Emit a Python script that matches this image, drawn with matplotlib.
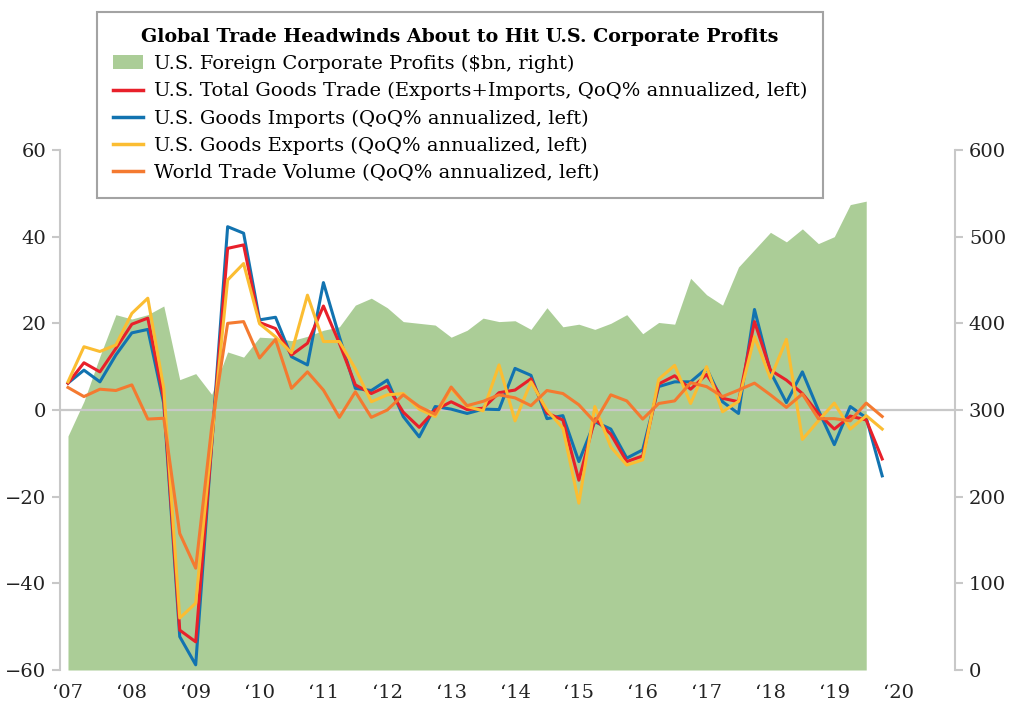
import matplotlib
matplotlib.use('Agg')
import matplotlib.pyplot as plt
from matplotlib.patches import Patch
from matplotlib.lines import Line2D

plt.rcParams['font.family'] = ['DejaVu Serif']

# quarterly data, 2007Q1 .. 2019Q4
quarters = [2007 + i / 4 for i in range(52)]

# U.S. foreign corporate profits ($bn, right axis), 2007Q1 .. 2019Q3
profits = [270, 310, 362, 410, 405, 410, 420, 335, 342, 318,
           367, 361, 384, 383, 380, 385, 392, 396, 421, 429,
           418, 402, 400, 398, 384, 392, 406, 402, 403, 393,
           418, 396, 399, 393, 400, 410, 388, 401, 399, 452,
           433, 421, 465, 485, 505, 494, 509, 492, 500, 537, 541]

# QoQ% annualized, left axis
total_trade = [6.2, 10.9, 8.8, 14.2, 19.8, 21.2, 2.5, -50.8, -53.5, -8.0,
               37.3, 38.1, 20.2, 18.8, 12.7, 15.4, 24.0, 15.4, 5.8, 3.8,
               5.5, -0.5, -4.0, 0.0, 1.9, 0.1, 0.4, 4.0, 4.6, 7.2,
               -0.7, -2.3, -16.2, -2.0, -5.6, -11.9, -10.6, 6.0, 7.9, 4.8,
               8.2, 2.7, 1.9, 20.4, 9.2, 6.9, 3.8, -0.8, -4.4, -1.4,
               -2.3, -11.3]
imports = [6.2, 9.2, 6.5, 12.7, 17.8, 18.6, 1.5, -52.3, -58.8, -8.0,
           42.3, 40.8, 20.8, 21.4, 12.3, 10.4, 29.4, 16.9, 5.0, 4.5,
           6.9, -1.5, -6.2, 0.8, 0.2, -0.8, 0.2, 0.1, 9.6, 8.0,
           -2.0, -1.3, -11.9, -2.7, -4.4, -11.1, -9.2, 5.4, 6.5, 6.5,
           9.6, 1.9, -0.8, 23.2, 8.8, 1.7, 8.8, 0.0, -8.0, 0.8,
           -1.8, -15.2]
exports = [6.5, 14.6, 13.5, 15.0, 22.3, 25.8, 5.0, -48.0, -44.6, -7.0,
           30.0, 33.8, 19.9, 16.9, 13.2, 26.5, 15.8, 15.8, 9.5, 1.9,
           3.5, 3.8, 0.2, -1.5, 5.0, 0.8, -0.2, 10.4, -2.5, 6.5,
           0.0, -4.2, -21.5, 0.8, -8.5, -12.7, -11.5, 7.1, 10.3, 1.5,
           10.0, -0.4, 2.0, 16.9, 7.3, 16.3, -6.8, -2.5, 1.6, -4.4,
           -1.3, -4.4]
world_trade = [5.2, 3.1, 4.8, 4.5, 5.8, -2.1, -1.9, -28.5, -36.5, -4.0,
               20.0, 20.4, 12.0, 16.3, 5.0, 8.8, 4.6, -1.7, 4.2, -1.7,
               0.0, 3.5, 0.8, -1.0, 5.3, 1.0, 2.0, 3.5, 2.8, 1.0,
               4.5, 3.8, 1.2, -2.8, 3.5, 2.1, -2.1, 1.5, 2.1, 6.3,
               5.4, 3.1, 4.6, 6.2, 3.5, 0.6, 3.7, -2.0, -2.0, -2.5,
               1.6, -1.5]

year_ticks = list(range(2007, 2021))
year_labels = ['\u2018%02d' % (y % 100) for y in year_ticks]
left_ticks = [-60, -40, -20, 0, 20, 40, 60]
right_ticks = [0, 100, 200, 300, 400, 500, 600]

green = '#abcd97'
red = '#e8202a'
blue = '#1273b0'
yellow = '#fbbd32'
orange = '#f47a30'
grey = '#c8c8c8'

fig = plt.figure(figsize=(10.12, 7.13), dpi=100, facecolor='white')
ax = fig.add_axes([60 / 1012, 1 - 670 / 713, 895 / 1012, 520 / 713])
ax2 = ax.twinx()
ax.set_zorder(ax2.get_zorder() + 1)
ax.patch.set_visible(False)

# area on the right axis
ax2.fill_between(quarters[:len(profits)], 0, profits, color=green, lw=0)
ax2.set_ylim(0, 600)
ax2.set_yticks(right_ticks)

# lines on the left axis
ax.axhline(0, color=grey, lw=1.6, zorder=1)
ax.plot(quarters, imports, color=blue, lw=2.2, zorder=3)
ax.plot(quarters, total_trade, color=red, lw=2.2, zorder=4)
ax.plot(quarters, exports, color=yellow, lw=2.2, zorder=5)
ax.plot(quarters, world_trade, color=orange, lw=2.2, zorder=6)
ax.set_ylim(-60, 60)
ax.set_yticks(left_ticks)
ax.set_xlim(2006.875, 2020.89)
ax.set_xticks(year_ticks)
ax.set_xticklabels(year_labels)

for a in (ax, ax2):
    for s in a.spines.values():
        s.set_visible(False)
ax.spines['left'].set_visible(True)
ax.spines['left'].set_color(grey)
ax.spines['left'].set_linewidth(1.5)
ax2.spines['right'].set_visible(True)
ax2.spines['right'].set_color(grey)
ax2.spines['right'].set_linewidth(1.5)

ax.tick_params(axis='y', length=6, width=1.5, color=grey, labelsize=14,
               labelcolor='#222222', pad=4)
ax.tick_params(axis='x', length=0, labelsize=14, labelcolor='#222222', pad=10)
ax2.tick_params(axis='y', length=6, width=1.5, color=grey, labelsize=14,
                labelcolor='#222222', pad=4)

handles = [Patch(facecolor=green, edgecolor='none'),
           Line2D([], [], color=red, lw=2.5),
           Line2D([], [], color=blue, lw=2.5),
           Line2D([], [], color=yellow, lw=2.5),
           Line2D([], [], color=orange, lw=2.5)]
labels = ['U.S. Foreign Corporate Profits ($bn, right)',
          'U.S. Total Goods Trade (Exports+Imports, QoQ% annualized, left)',
          'U.S. Goods Imports (QoQ% annualized, left)',
          'U.S. Goods Exports (QoQ% annualized, left)',
          'World Trade Volume (QoQ% annualized, left)']
leg = fig.legend(handles, labels, loc='upper left',
                 bbox_to_anchor=(97 / 1012, 1 - 12 / 713), borderaxespad=0,
                 title='Global Trade Headwinds About to Hit U.S. Corporate Profits',
                 title_fontproperties={'weight': 'bold', 'size': 13.7},
                 fontsize=14, frameon=True, fancybox=False,
                 handlelength=1.55, handletextpad=0.6, labelspacing=0.47,
                 borderpad=0.8, alignment='center')
leg.get_frame().set_edgecolor('#8c8c8c')
leg.get_frame().set_linewidth(1.5)
leg.set_zorder(10)

fig.savefig('out.png', dpi=100, facecolor='white')
